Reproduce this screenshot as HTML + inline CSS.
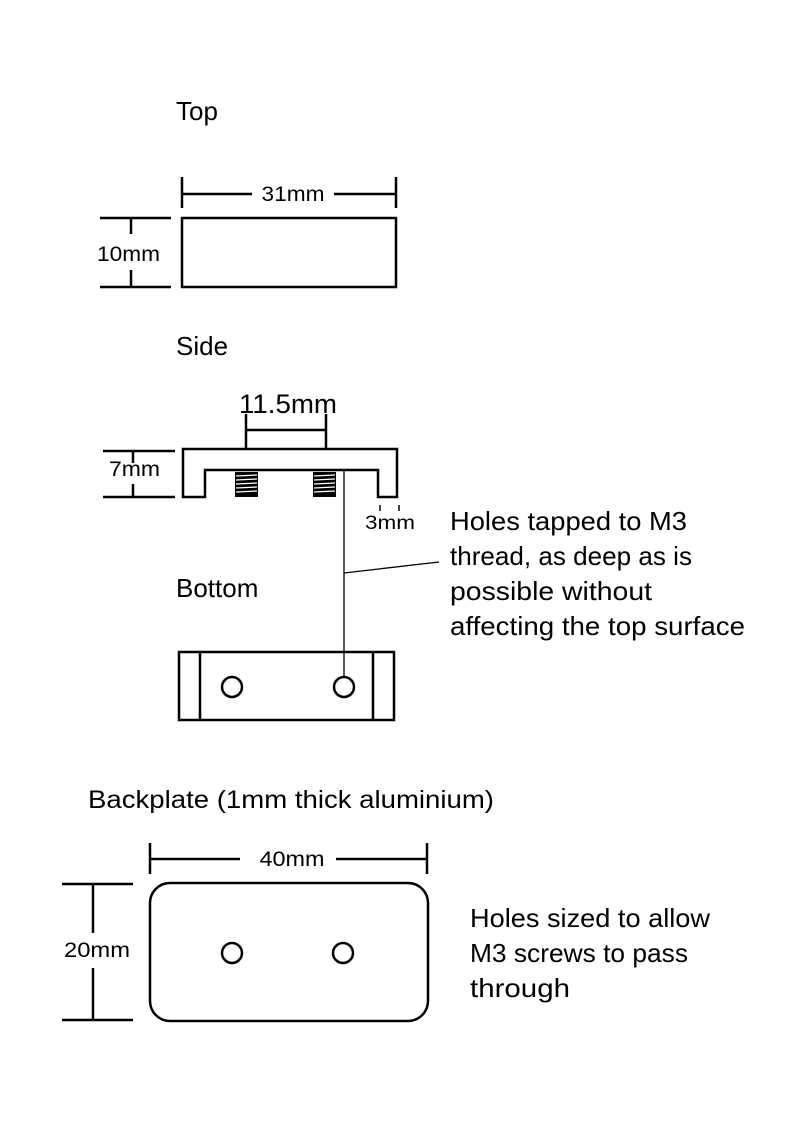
<!DOCTYPE html>
<html><head><meta charset="utf-8"><style>
html,body{margin:0;padding:0;background:#fff;}
svg{display:block;}
text{font-family:"Liberation Sans",sans-serif;fill:#000;}
</style></head><body>
<svg width="800" height="1127" viewBox="0 0 800 1127" xmlns="http://www.w3.org/2000/svg">
<g stroke="#000" stroke-width="2.5" fill="none">
<rect x="182" y="218" width="214" height="69"/>
<line x1="182" y1="177" x2="182" y2="208"/>
<line x1="396" y1="177" x2="396" y2="208"/>
<line x1="182" y1="194" x2="252" y2="194"/>
<line x1="334" y1="194" x2="396" y2="194"/>
<line x1="100" y1="218" x2="171" y2="218"/>
<line x1="100" y1="287" x2="171" y2="287"/>
<line x1="131" y1="218" x2="131" y2="234"/>
<line x1="131" y1="270" x2="131" y2="287"/>
<path d="M183 449 H397 V497 H378 V470 H205 V497 H183 Z"/>
<line x1="246" y1="414" x2="246" y2="449"/>
<line x1="326" y1="414" x2="326" y2="449"/>
<line x1="246" y1="430" x2="326" y2="430"/>
<line x1="103" y1="451" x2="175" y2="451"/>
<line x1="103" y1="497" x2="175" y2="497"/>
<line x1="133" y1="451" x2="133" y2="463"/>
<line x1="133" y1="484" x2="133" y2="497"/>
<line x1="380" y1="505" x2="380" y2="511" stroke-width="1.5"/>
<line x1="399" y1="505" x2="399" y2="511" stroke-width="1.5"/>
<rect x="179" y="652" width="215" height="68"/>
<line x1="200" y1="652" x2="200" y2="720"/>
<line x1="373" y1="652" x2="373" y2="720"/>
<circle cx="232" cy="687" r="10"/>
<circle cx="344" cy="687" r="10"/>
<rect x="150" y="883" width="278" height="138" rx="20" ry="20"/>
<line x1="150" y1="843" x2="150" y2="874"/>
<line x1="427" y1="843" x2="427" y2="874"/>
<line x1="150" y1="859" x2="240" y2="859"/>
<line x1="336" y1="859" x2="427" y2="859"/>
<line x1="62" y1="884" x2="133" y2="884"/>
<line x1="62" y1="1020" x2="133" y2="1020"/>
<line x1="93" y1="884" x2="93" y2="933"/>
<line x1="93" y1="968" x2="93" y2="1020"/>
<circle cx="232" cy="953" r="10"/>
<circle cx="343" cy="953" r="10"/>
</g>
<g fill="#000">
<rect x="235" y="472" width="23" height="25"/>
<rect x="313" y="472" width="23" height="25"/>
</g>
<g stroke="#fff" stroke-width="1.2">
<line x1="236" y1="476" x2="257" y2="475"/><line x1="236" y1="480" x2="257" y2="479"/><line x1="236" y1="484" x2="257" y2="483"/><line x1="236" y1="488" x2="257" y2="487"/><line x1="236" y1="492" x2="257" y2="491"/>
<line x1="314" y1="476" x2="335" y2="475"/><line x1="314" y1="480" x2="335" y2="479"/><line x1="314" y1="484" x2="335" y2="483"/><line x1="314" y1="488" x2="335" y2="487"/><line x1="314" y1="492" x2="335" y2="491"/>
</g>
<g stroke="#000" stroke-width="1.3">
<line x1="344" y1="470" x2="344" y2="677"/>
<line x1="344" y1="573" x2="439" y2="562"/>
</g>
<text x="176" y="120" font-size="26">Top</text>
<text x="176" y="355" font-size="26">Side</text>
<text x="176" y="597" font-size="26">Bottom</text>
<text x="88" y="808" font-size="25" textLength="406" lengthAdjust="spacingAndGlyphs">Backplate (1mm thick aluminium)</text>
<text x="293" y="201" font-size="21" text-anchor="middle" textLength="63" lengthAdjust="spacingAndGlyphs">31mm</text>
<text x="97" y="261" font-size="21" textLength="63" lengthAdjust="spacingAndGlyphs">10mm</text>
<text x="239" y="413" font-size="27" textLength="98" lengthAdjust="spacingAndGlyphs">11.5mm</text>
<text x="109" y="476" font-size="21" textLength="51" lengthAdjust="spacingAndGlyphs">7mm</text>
<text x="365" y="529" font-size="19" textLength="50" lengthAdjust="spacingAndGlyphs">3mm</text>
<text x="292" y="866" font-size="21" text-anchor="middle" textLength="65" lengthAdjust="spacingAndGlyphs">40mm</text>
<text x="64" y="957" font-size="21" textLength="66" lengthAdjust="spacingAndGlyphs">20mm</text>
<g font-size="26">
<text x="450" y="530" textLength="237" lengthAdjust="spacingAndGlyphs">Holes tapped to M3</text>
<text x="450" y="565" textLength="242" lengthAdjust="spacingAndGlyphs">thread, as deep as is</text>
<text x="450" y="600" textLength="202" lengthAdjust="spacingAndGlyphs">possible without</text>
<text x="450" y="635" textLength="295" lengthAdjust="spacingAndGlyphs">affecting the top surface</text>
<text x="470" y="927" textLength="240" lengthAdjust="spacingAndGlyphs">Holes sized to allow</text>
<text x="470" y="962" textLength="218" lengthAdjust="spacingAndGlyphs">M3 screws to pass</text>
<text x="470" y="997" textLength="100" lengthAdjust="spacingAndGlyphs">through</text>
</g>
</svg>
</body></html>
